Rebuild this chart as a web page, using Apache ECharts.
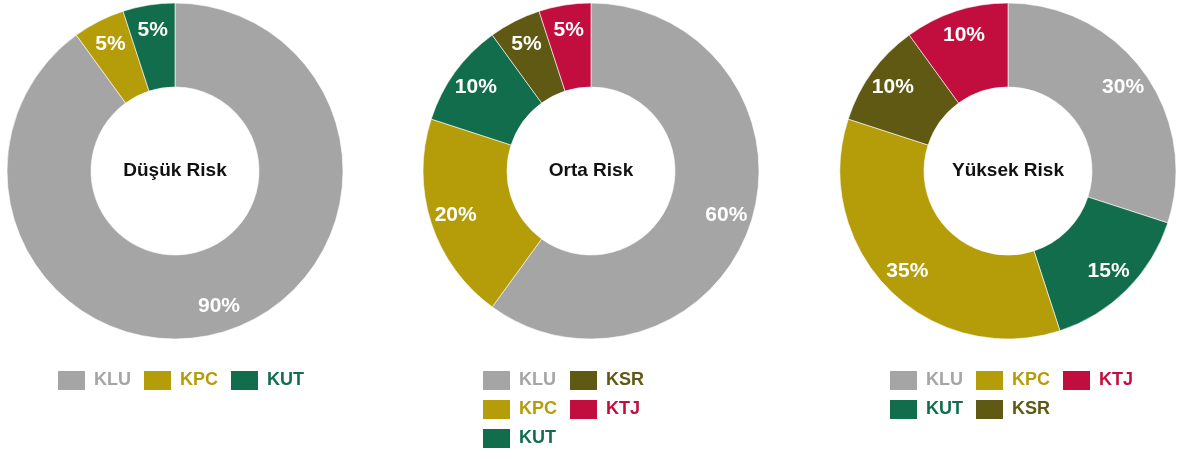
<!DOCTYPE html>
<html>
<head>
<meta charset="utf-8">
<script src="https://cdn.jsdelivr.net/npm/echarts@6/dist/echarts.min.js"></script>
<style>
  html, body { margin: 0; padding: 0; background: #fff; }
  #main { width: 1182px; height: 459px; }
</style>
</head>
<body>
<div id="main"></div>
<script>
var titles = ['Düşük Risk', 'Orta Risk', 'Yüksek Risk'];

var lowNames = ['KLU', 'KPC', 'KUT'];
var lowValues = [90, 5, 5];
var midNames = ['KLU', 'KPC', 'KUT', 'KSR', 'KTJ'];
var midValues = [60, 20, 10, 5, 5];
var highNames = ['KLU', 'KUT', 'KPC', 'KSR', 'KTJ'];
var highValues = [30, 15, 35, 10, 10];

// legend order (2nd and 3rd legend fill column by column)
var lowLegend = ['KLU', 'KPC', 'KUT'];
var midLegend = ['KLU', 'KPC', 'KUT', 'KSR', 'KTJ'];
var highLegend = ['KLU', 'KUT', 'KPC', 'KSR', 'KTJ'];

var colors = { KLU: '#a5a5a5', KPC: '#b59d09', KUT: '#126d4d', KSR: '#5f5913', KTJ: '#c20e3e' };

var centers = [[175, 171], [591, 171], [1008, 171]];
var FONT = '"Liberation Sans", Arial, sans-serif';

function pieData(names, values) {
  return names.map(function (n, i) {
    return { name: n, value: values[i], itemStyle: { color: colors[n] } };
  });
}

function legendData(names) {
  return names.map(function (n) {
    return { name: n, textStyle: { color: colors[n] } };
  });
}

function makePie(idx, names, values) {
  return {
    type: 'pie',
    center: centers[idx],
    radius: [84, 168],
    startAngle: 90,
    clockwise: true,
    avoidLabelOverlap: false,
    silent: true,
    itemStyle: { borderColor: '#ffffff', borderWidth: 0.6 },
    label: {
      show: true,
      position: 'inside',
      formatter: '{c}%',
      color: '#ffffff',
      fontFamily: FONT,
      fontWeight: 'bold',
      fontSize: 21
    },
    labelLine: { show: false },
    // push the labels a bit towards the outer edge of the ring
    labelLayout: function (p) {
      var c = centers[p.seriesIndex];
      var x = p.labelRect.x + p.labelRect.width / 2;
      var y = p.labelRect.y + p.labelRect.height / 2;
      var k = 139 / 126;
      return { x: c[0] + (x - c[0]) * k, y: c[1] + (y - c[1]) * k };
    },
    data: pieData(names, values)
  };
}

var legendBase = {
  icon: 'rect',
  itemWidth: 29,
  itemHeight: 21,
  itemGap: 6,
  selectedMode: false,
  padding: 0,
  // trailing space widens each item a little
  formatter: function (name) { return name + ' '; },
  textStyle: { fontFamily: FONT, fontWeight: 'bold', fontSize: 18, padding: [0, 0, 0, 3] }
};

var chart = echarts.init(document.getElementById('main'));
chart.setOption({
  backgroundColor: '#ffffff',
  animation: false,
  title: titles.map(function (t, i) {
    return {
      text: t,
      left: centers[i][0],
      top: centers[i][1],
      textAlign: 'center',
      textVerticalAlign: 'middle',
      padding: 0,
      textStyle: { fontFamily: FONT, fontWeight: 'bold', fontSize: 19, color: '#111111' }
    };
  }),
  legend: [
    Object.assign({}, legendBase, { orient: 'horizontal', left: 56, top: 369, data: legendData(lowLegend) }),
    Object.assign({}, legendBase, { orient: 'vertical', left: 481, top: 369, height: 85, data: legendData(midLegend) }),
    Object.assign({}, legendBase, { orient: 'vertical', left: 888, top: 369, height: 56, data: legendData(highLegend) })
  ],
  series: [
    makePie(0, lowNames, lowValues),
    makePie(1, midNames, midValues),
    makePie(2, highNames, highValues)
  ]
});
</script>
</body>
</html>
